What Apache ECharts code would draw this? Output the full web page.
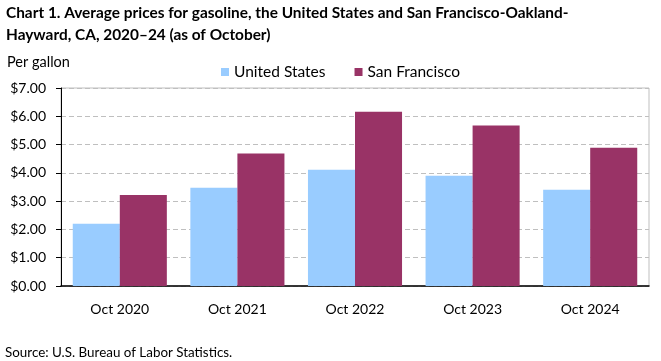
<!DOCTYPE html>
<html><head><meta charset="utf-8">
<script src="https://cdn.jsdelivr.net/npm/echarts@6/dist/echarts.min.js"></script>
<style>html,body{margin:0;padding:0;background:#fff}#c{width:661px;height:361px}</style>
</head><body><div id="c"></div>
<script>
const categories = ['Oct 2020','Oct 2021','Oct 2022','Oct 2023','Oct 2024'];
const unitedStates = [2.20, 3.47, 4.11, 3.90, 3.40];
const sanFrancisco = [3.22, 4.68, 6.16, 5.67, 4.89];
const seriesNames = ['United States','San Francisco'];
const FONT = 'Lato';
const chart = echarts.init(document.getElementById('c'), null, {renderer:'canvas'});
chart.setOption({
  animation:false,
  backgroundColor:'#fff',
  textStyle:{fontFamily:FONT},
  title:[
    {text:'Chart 1. Average prices for gasoline, the United States and San Francisco-Oakland-\nHayward, CA, 2020\u201324 (as of October)',
     left:6, top:2, padding:0, textStyle:{fontFamily:FONT, fontSize:15.4, fontWeight:'bold', color:'#000', lineHeight:22}},
    {text:'Per gallon', left:7, top:55, padding:0, textStyle:{fontFamily:FONT, fontSize:14.5, fontWeight:'normal', color:'#000'}},
    {text:'Source: U.S. Bureau of Labor Statistics.', left:5, top:346, padding:0, textStyle:{fontFamily:FONT, fontSize:13.4, fontWeight:'normal', color:'#000'}}
  ],
  legend:{data:seriesNames, left:216, top:59, itemWidth:8, itemHeight:8, itemGap:29, icon:'rect',
    textStyle:{fontFamily:FONT, fontSize:15.5, color:'#000'}},
  grid:{left:61, right:12, top:88, bottom:75, show:true, borderColor:'#bfbfbf', borderWidth:1},
  xAxis:{type:'category', data:categories,
    axisLine:{lineStyle:{color:'#000', width:1.5}}, axisTick:{show:false},
    axisLabel:{color:'#000', fontSize:14, fontFamily:FONT, margin:16}},
  yAxis:{type:'value', min:0, max:7, interval:1,
    axisLine:{show:true, lineStyle:{color:'#000', width:1}},
    axisTick:{show:true, length:5, lineStyle:{color:'#000'}},
    splitLine:{lineStyle:{color:'#bfbfbf', type:[5,3]}},
    axisLabel:{color:'#000', fontSize:14, fontFamily:FONT, margin:15, formatter:v=>'$'+v.toFixed(2)}},
  series:[
    {name:seriesNames[0], type:'bar', data:unitedStates, itemStyle:{color:'#99ccff'}, barGap:'0%', barCategoryGap:'20%'},
    {name:seriesNames[1], type:'bar', data:sanFrancisco, itemStyle:{color:'#993366'}, barGap:'0%', barCategoryGap:'20%'}
  ]
});
</script></body></html>
